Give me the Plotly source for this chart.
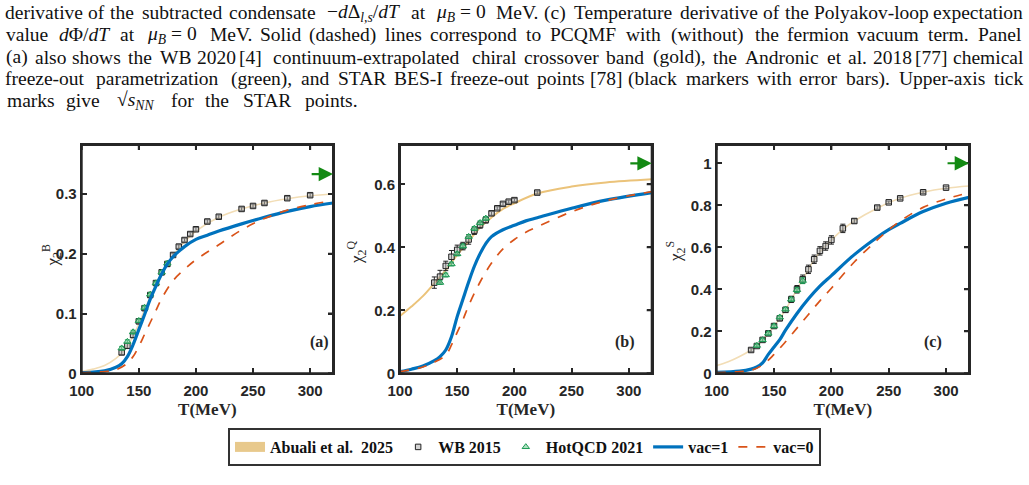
import plotly.graph_objects as go

W, H = 1029, 485

# ---------------- data ----------------
# Panel (a): chi2^B
T_gold_a = [100, 110, 120, 130, 135, 140, 145, 150, 155, 160, 165, 170, 175, 180, 190, 200, 220, 240, 260, 280, 300, 320]
gold_a = [0.003, 0.007, 0.013, 0.025, 0.034, 0.046, 0.062, 0.083, 0.106, 0.128, 0.149, 0.167, 0.183, 0.197, 0.220, 0.238, 0.261, 0.275, 0.285, 0.292, 0.297, 0.300]
T_wb_a = [135, 140, 145, 150, 155, 160, 165, 170, 175, 180, 185, 190, 195, 200, 210, 220, 240, 250, 260, 280, 300]
wb_a = [0.035, 0.046, 0.064, 0.087, 0.109, 0.131, 0.151, 0.169, 0.183, 0.198, 0.212, 0.223, 0.233, 0.241, 0.254, 0.262, 0.275, 0.280, 0.285, 0.293, 0.298]
wb_a_err = [0.004, 0.004, 0.004, 0.004, 0.004, 0.004, 0.004, 0.004, 0.004, 0.003, 0.003, 0.003, 0.003, 0.003, 0.003, 0.003, 0.003, 0.003, 0.003, 0.003, 0.003]
T_hot = [135, 140, 145, 150, 155, 160, 165, 170, 175]
hot_a = [0.042, 0.053, 0.069, 0.088, 0.110, 0.132, 0.151, 0.169, 0.184]
hot_a_err = [0.003, 0.003, 0.003, 0.003, 0.003, 0.003, 0.003, 0.003, 0.003]
T_v1_a = [100, 110, 120, 130, 135, 140, 145, 150, 155, 160, 165, 170, 175, 180, 185, 190, 200, 210, 220, 240, 260, 280, 300, 320]
vac1_a = [0.001, 0.002, 0.004, 0.010, 0.016, 0.028, 0.048, 0.073, 0.098, 0.124, 0.146, 0.166, 0.183, 0.195, 0.204, 0.212, 0.224, 0.231, 0.238, 0.250, 0.261, 0.271, 0.279, 0.285]
T_v0_a = [100, 120, 130, 140, 145, 150, 155, 160, 165, 170, 180, 190, 200, 220, 240, 260, 280, 300, 320]
vac0_a = [0.001, 0.003, 0.006, 0.017, 0.028, 0.045, 0.065, 0.085, 0.105, 0.125, 0.155, 0.174, 0.190, 0.215, 0.240, 0.259, 0.273, 0.282, 0.289]

# Panel (b): chi2^Q
T_gold_b = [100, 110, 120, 130, 140, 150, 160, 170, 180, 190, 200, 220, 250, 280, 320]
gold_b = [0.182, 0.212, 0.245, 0.286, 0.328, 0.376, 0.420, 0.463, 0.495, 0.522, 0.540, 0.571, 0.593, 0.606, 0.616]
T_wb_b = [130, 135, 140, 145, 150, 155, 160, 165, 170, 175, 180, 185, 190, 195, 200, 220]
wb_b = [0.288, 0.307, 0.341, 0.370, 0.392, 0.404, 0.425, 0.453, 0.471, 0.487, 0.508, 0.524, 0.538, 0.545, 0.550, 0.574]
wb_b_err = [0.018, 0.020, 0.015, 0.020, 0.015, 0.012, 0.015, 0.012, 0.010, 0.010, 0.006, 0.005, 0.005, 0.005, 0.005, 0.005]
hot_b = [0.288, 0.312, 0.347, 0.379, 0.404, 0.434, 0.460, 0.478, 0.492]
hot_b_err = [0.006, 0.006, 0.006, 0.006, 0.006, 0.006, 0.006, 0.006, 0.006]
T_v1_b = [100, 110, 120, 130, 135, 140, 145, 150, 155, 160, 165, 170, 175, 180, 190, 200, 210, 220, 250, 280, 320]
vac1_b = [0.005, 0.013, 0.023, 0.040, 0.053, 0.074, 0.116, 0.180, 0.235, 0.290, 0.340, 0.380, 0.412, 0.434, 0.456, 0.470, 0.484, 0.494, 0.524, 0.550, 0.574]
T_v0_b = [100, 120, 130, 140, 145, 150, 155, 160, 170, 180, 190, 200, 210, 220, 250, 280, 320]
vac0_b = [0.005, 0.020, 0.035, 0.058, 0.090, 0.130, 0.170, 0.215, 0.290, 0.350, 0.395, 0.425, 0.448, 0.465, 0.513, 0.548, 0.577]

# Panel (c): chi2^S
T_gold_c = [100, 110, 120, 130, 135, 140, 145, 150, 155, 160, 165, 170, 175, 180, 185, 190, 200, 210, 220, 240, 260, 280, 300, 320]
gold_c = [0.037, 0.055, 0.080, 0.111, 0.130, 0.158, 0.190, 0.225, 0.262, 0.302, 0.350, 0.400, 0.447, 0.494, 0.540, 0.578, 0.634, 0.685, 0.725, 0.786, 0.833, 0.862, 0.881, 0.892]
T_wb_c = [130, 135, 140, 145, 150, 155, 160, 165, 170, 175, 180, 185, 190, 195, 200, 210, 220, 240, 250, 260, 280, 300]
wb_c = [0.111, 0.130, 0.159, 0.190, 0.225, 0.262, 0.302, 0.352, 0.400, 0.448, 0.495, 0.543, 0.583, 0.606, 0.635, 0.690, 0.725, 0.789, 0.814, 0.833, 0.862, 0.884]
wb_c_err = [0.008, 0.008, 0.008, 0.010, 0.010, 0.012, 0.012, 0.015, 0.018, 0.020, 0.020, 0.020, 0.020, 0.020, 0.020, 0.020, 0.010, 0.008, 0.006, 0.006, 0.006, 0.006]
hot_c = [0.132, 0.159, 0.190, 0.225, 0.267, 0.305, 0.352, 0.397, 0.441]
hot_c_err = [0.008, 0.008, 0.008, 0.008, 0.008, 0.008, 0.010, 0.012, 0.014]
T_v1_c = [100, 120, 130, 135, 140, 145, 150, 155, 160, 170, 180, 190, 200, 220, 240, 250, 260, 280, 300, 320]
vac1_c = [0.004, 0.010, 0.020, 0.030, 0.050, 0.090, 0.125, 0.160, 0.205, 0.285, 0.355, 0.415, 0.465, 0.565, 0.648, 0.684, 0.714, 0.770, 0.810, 0.838]
T_v0_c = [100, 120, 130, 140, 150, 160, 170, 180, 190, 200, 220, 240, 250, 260, 280, 300, 320]
vac0_c = [0.003, 0.008, 0.014, 0.040, 0.090, 0.150, 0.215, 0.280, 0.345, 0.405, 0.530, 0.635, 0.683, 0.725, 0.790, 0.830, 0.860]

# Stefan-Boltzmann limit arrows
arrow_T = [300, 320]
sb_limits = [0.3333, 0.6667, 1.0]

panel_labels = ["(a)", "(b)", "(c)"]
y_titles = ["χ<sub>2</sub><sup>B</sup>", "χ<sub>2</sub><sup>Q</sup>", "χ<sub>2</sub><sup>S</sup>"]
y_ranges = [[0, 0.382], [0, 0.725], [0, 1.087]]
y_tickvals = [[0, 0.1, 0.2, 0.3], [0, 0.2, 0.4, 0.6], [0, 0.2, 0.4, 0.6, 0.8, 1.0]]
y_ticktext = [["0", "0.1", "0.2", "0.3"], ["0", "0.2", "0.4", "0.6"], ["0", "0.2", "0.4", "0.6", "0.8", "1"]]
x_tickvals = [100, 150, 200, 250, 300]

legend_names = ["Abuali et al.  2025", "WB 2015", "HotQCD 2021", "vac=1", "vac=0"]

# caption words: (markup, plain text used for width estimate)
MU = ("<i>μ<sub>B</sub></i> = 0", "μB = 0")
caption_lines = [
    [("derivative",), ("of",), ("the",), ("subtracted",), ("condensate",),
     ("−<i>d</i>Δ<sub><i>l,s</i></sub>/<i>dT</i>", "−dΔls/dT"), ("at",), MU, ("MeV.",), ("(c)",),
     ("Temperature",), ("derivative",), ("of",), ("the",), ("Polyakov-loop",), ("expectation",)],
    [("value",), ("<i>d</i>Φ/<i>dT</i>", "dΦ/dT"), ("at",), MU, ("MeV.",), ("Solid",), ("(dashed)",),
     ("lines",), ("correspond",), ("to",), ("PCQMF",), ("with",), ("(without)",), ("the",), ("fermion",),
     ("vacuum",), ("term.",), ("Panel",)],
    [("(a)",), ("also",), ("shows",), ("the",), ("WB",), ("2020",), ("[4]",), ("continuum-extrapolated",),
     ("chiral",), ("crossover",), ("band",), ("(gold),",), ("the",), ("Andronic",), ("et",), ("al.",),
     ("2018",), ("[77]",), ("chemical",)],
    [("freeze-out",), ("parametrization",), ("(green),",), ("and",), ("STAR",), ("BES-I",), ("freeze-out",),
     ("points",), ("[78]",), ("(black",), ("markers",), ("with",), ("error",), ("bars).",), ("Upper-axis",),
     ("tick",)],
    [("marks",), ("give",), ("√<i>s<sub>NN</sub></i>", "√sNN"), ("for",), ("the",), ("STAR",), ("points.",)],
]
caption_justified = [True, True, True, True, False]
caption_y = [12.5, 35, 57, 79, 100.5]

# ---------------- layout geometry (pixels) ----------------
px_x = [(81.7, 333.0), (400.0, 651.7), (716.7, 969.0)]
px_y = (145.0, 373.3)
ytitle_x = [37, 356, 675]
ytitle_y = [255, 252, 252]
label_x = [308, 625, 944]
label_y = 353
TEXT_L, TEXT_R = 5, 1024
CM_SIZE = 19.6  # size used to lay out word slots (Computer-Modern-like widths)
MIN_GAP = 5.5

CM_W = {
    'a': .5, 'b': .556, 'c': .444, 'd': .556, 'e': .444, 'f': .306, 'g': .5, 'h': .556, 'i': .278, 'j': .306,
    'k': .528, 'l': .278, 'm': .833, 'n': .556, 'o': .5, 'p': .556, 'q': .528, 'r': .392, 's': .394, 't': .389,
    'u': .556, 'v': .528, 'w': .722, 'x': .528, 'y': .528, 'z': .444,
    'A': .75, 'B': .708, 'C': .722, 'D': .764, 'E': .681, 'F': .653, 'G': .785, 'H': .75, 'I': .361, 'J': .514,
    'K': .778, 'L': .625, 'M': .917, 'N': .75, 'O': .778, 'P': .681, 'Q': .778, 'R': .736, 'S': .556, 'T': .722,
    'U': .75, 'V': .75, 'W': 1.028, 'X': .75, 'Y': .75, 'Z': .611,
    '(': .389, ')': .389, '[': .278, ']': .278, '.': .278, ',': .278, '-': .333, '=': .778, ' ': .278,
    '/': .5, '−': .778, 'Δ': .833, 'Φ': .722, 'μ': .603, '√': .833,
}

def cm_em(s):
    return sum(CM_W.get(c, .5) for c in s)

def fx(p):
    return p / W

def fy(p):
    return 1 - p / H

BLUE = "#0072BD"
ORANGE = "#D95319"
GOLD_LEG = "#E8C98C"
GOLD_LINE = ["#F2DDB5", "#EBC37A", "#F2DDB5"]
AX = "#262626"
GREEN_ARROW = "#138A13"
TICK_PX = 5

fig = go.Figure()

panels = [
    (T_gold_a, gold_a, T_wb_a, wb_a, wb_a_err, hot_a, hot_a_err, T_v1_a, vac1_a, T_v0_a, vac0_a),
    (T_gold_b, gold_b, T_wb_b, wb_b, wb_b_err, hot_b, hot_b_err, T_v1_b, vac1_b, T_v0_b, vac0_b),
    (T_gold_c, gold_c, T_wb_c, wb_c, wb_c_err, hot_c, hot_c_err, T_v1_c, vac1_c, T_v0_c, vac0_c),
]

axis_common = dict(showline=True, linewidth=2, linecolor=AX, mirror="ticks", ticks="inside",
                   ticklen=TICK_PX, tickwidth=2, tickcolor=AX, showgrid=False, zeroline=False, automargin=False,
                   tickfont=dict(family="Liberation Sans", size=15, color=AX, weight="bold"))

layout_axes = {}
for i, (Tg, g, Tw, w, we, h, he, T1, v1, T0, v0) in enumerate(panels):
    xa = "x" if i == 0 else f"x{i+1}"
    ya = "y" if i == 0 else f"y{i+1}"
    first = (i == 0)
    fig.add_trace(go.Scatter(x=Tg, y=g, mode="lines", line=dict(color=GOLD_LINE[i], width=1.6 if i != 1 else 2, shape="spline"),
                             showlegend=False, xaxis=xa, yaxis=ya, hoverinfo="skip"))
    if first:
        fig.add_trace(go.Scatter(x=[None], y=[None], mode="lines", line=dict(color=GOLD_LEG, width=14),
                                 name=legend_names[0], showlegend=True, xaxis=xa, yaxis=ya))
    fig.add_trace(go.Scatter(x=Tw, y=w, mode="markers", name=legend_names[1], showlegend=first,
                             marker=dict(symbol="square", size=5.5, color="rgba(175,175,175,0.55)", line=dict(color="#222222", width=1)),
                             error_y=dict(type="data", array=we, color="#222222", thickness=1, width=2.5),
                             xaxis=xa, yaxis=ya))
    fig.add_trace(go.Scatter(x=T_hot, y=h, mode="markers", name=legend_names[2], showlegend=first,
                             marker=dict(symbol="triangle-up", size=6.5, color="rgba(120,205,150,0.6)", line=dict(color="#1E9A55", width=1)),
                             error_y=dict(type="data", array=he, color="#1E9A55", thickness=1, width=2.5),
                             xaxis=xa, yaxis=ya))
    fig.add_trace(go.Scatter(x=T1, y=v1, mode="lines", name=legend_names[3], showlegend=first,
                             line=dict(color=BLUE, width=3.2, shape="spline"), xaxis=xa, yaxis=ya))
    fig.add_trace(go.Scatter(x=T0, y=v0, mode="lines", name=legend_names[4], showlegend=first,
                             line=dict(color=ORANGE, width=1.7, dash="dash", shape="spline"), xaxis=xa, yaxis=ya))

    x0, x1 = px_x[i]
    y0, y1 = px_y
    layout_axes["xaxis" if first else f"xaxis{i+1}"] = dict(
        domain=[fx(x0), fx(x1)], range=[100, 320], tickvals=x_tickvals, anchor=ya, ticklabelstandoff=3,
        title=dict(text="T(MeV)", font=dict(family="Liberation Serif", size=17, color=AX, weight="bold"), standoff=5),
        **axis_common)
    layout_axes["yaxis" if first else f"yaxis{i+1}"] = dict(
        domain=[fy(y1), fy(y0)], range=y_ranges[i], tickvals=y_tickvals[i], ticktext=y_ticktext[i],
        anchor=xa, **axis_common)

    # frame box
    fig.add_shape(type="rect", xref=f"{xa} domain", yref=f"{ya} domain", x0=0, x1=1, y0=0, y1=1,
                  line=dict(color=AX, width=2), layer="above")
    # mirrored tick marks on top and right edges
    for t in x_tickvals:
        fig.add_shape(type="line", xref=xa, yref=f"{ya} domain", x0=t, x1=t, y0=1, y1=1 - TICK_PX / (y1 - y0),
                      line=dict(color=AX, width=2), layer="above")
    for t in y_tickvals[i]:
        fig.add_shape(type="line", xref=f"{xa} domain", yref=ya, x0=1, x1=1 - TICK_PX / (x1 - x0), y0=t, y1=t,
                      line=dict(color=AX, width=2), layer="above")

    # y title
    fig.add_annotation(x=fx(ytitle_x[i]), y=fy(ytitle_y[i]), xref="paper", yref="paper", text=y_titles[i],
                       textangle=-90, showarrow=False, font=dict(family="Liberation Serif", size=17, color=AX))
    # panel label
    fig.add_annotation(x=fx(label_x[i]), y=fy(label_y), xref="paper", yref="paper", text=panel_labels[i],
                       showarrow=False, font=dict(family="Liberation Serif", size=16, color=AX, weight="bold"))
    # SB arrow
    fig.add_annotation(x=arrow_T[1], y=sb_limits[i], ax=arrow_T[0], ay=sb_limits[i], xref=xa, yref=ya,
                       axref=xa, ayref=ya, showarrow=True, arrowhead=2, arrowsize=1.3, arrowwidth=2.2,
                       arrowcolor=GREEN_ARROW, text="")

# caption text: justified word placement with a minimum inter-word gap
avail = TEXT_R - TEXT_L
for words, justified, yc in zip(caption_lines, caption_justified, caption_y):
    ems = [cm_em(wd[-1]) for wd in words]
    n = len(words)
    if justified:
        size = min(CM_SIZE, (avail - (n - 1) * MIN_GAP) / sum(ems))
        widths = [e * size for e in ems]
        gap = (avail - sum(widths)) / (n - 1)
    else:
        widths = [e * CM_SIZE for e in ems]
        gap = 0.45 * CM_SIZE
    xpos = TEXT_L
    for wd, wwid in zip(words, widths):
        fig.add_annotation(x=fx(xpos + wwid / 2), y=fy(yc), xref="paper", yref="paper", text=wd[0],
                           showarrow=False, xanchor="center", yanchor="middle",
                           font=dict(family="Liberation Serif", size=19.5, color="#111111"))
        xpos += wwid + gap

fig.update_layout(
    template="none",
    width=W, height=H, autosize=False,
    margin=dict(l=0, r=0, t=0, b=0, pad=0, autoexpand=False),
    paper_bgcolor="white", plot_bgcolor="white",
    showlegend=True,
    legend=dict(orientation="h", x=fx(228), y=fy(428), xanchor="left", yanchor="top",
                bgcolor="white", bordercolor="#333333", borderwidth=2,
                font=dict(family="Liberation Serif", size=16, color="#111111", weight="bold"),
                itemwidth=30, tracegroupgap=0),
    **layout_axes,
)

fig.write_html("out.html")
